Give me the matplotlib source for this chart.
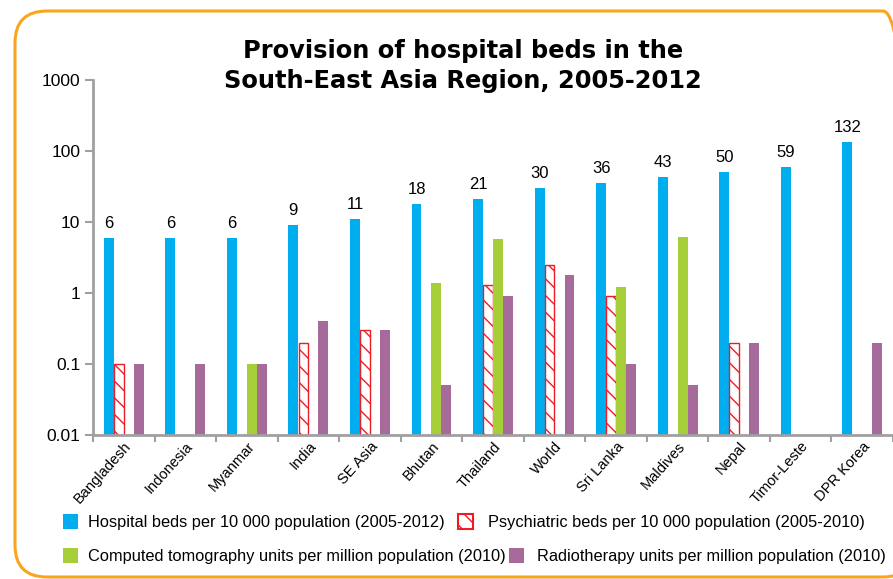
import matplotlib
matplotlib.use("Agg")
import matplotlib.pyplot as plt
import numpy as np
from matplotlib.patches import FancyBboxPatch, Rectangle
from matplotlib.transforms import IdentityTransform
from matplotlib.ticker import FixedLocator, NullLocator

categories = ["Bangladesh", "Indonesia", "Myanmar", "India", "SE Asia", "Bhutan", "Thailand",
              "World", "Sri Lanka", "Maldives", "Nepal", "Timor-Leste", "DPR Korea"]
hospital_beds = [6, 6, 6, 9, 11, 18, 21, 30, 36, 43, 50, 59, 132]
psychiatric_beds = [0.1, None, None, 0.2, 0.3, None, 1.3, 2.5, 0.9, None, 0.2, None, None]
ct_units = [None, None, 0.1, None, None, 1.4, 5.8, None, 1.2, 6.2, None, None, None]
radiotherapy_units = [0.1, 0.1, 0.1, 0.4, 0.3, 0.05, 0.9, 1.8, 0.1, 0.05, 0.2, None, 0.2]
yticks = [0.01, 0.1, 1, 10, 100, 1000]
ytick_labels = ["0.01", "0.1", "1", "10", "100", "1000"]

legend_labels = ["Hospital beds per 10 000 population (2005-2012)",
                 "Psychiatric beds per 10 000 population (2005-2010)",
                 "Computed tomography units per million population (2010)",
                 "Radiotherapy units per million population (2010)"]

BLUE = "#00AEEF"
RED = "#EE1C25"
GREEN = "#A6CE39"
PURPLE = "#A66B9B"
GRAY = "#A0A0A0"
ORANGE = "#F9A51E"

plt.rcParams['font.family'] = ['Liberation Sans Narrow', 'Liberation Sans', 'DejaVu Sans']
plt.rcParams['hatch.linewidth'] = 1.0

W, H = 893, 579
fig = plt.figure(figsize=(W / 100, H / 100), dpi=100)
ax = fig.add_axes([93 / W, 1 - 435 / H, 1.0 - 93 / W, (435 - 80) / H])

x = np.arange(len(categories))
bw = 0.162
offs = [-1.5 * bw, -0.5 * bw, 0.5 * bw, 1.5 * bw]

def clean(vals):
    return [v if v is not None else np.nan for v in vals]

bottom = 0.01
ax.bar(x + offs[0], np.array(hospital_beds) - bottom, bw, bottom=bottom, color=BLUE, edgecolor=BLUE, linewidth=0)
pv = np.array(clean(psychiatric_beds))
ax.bar(x + offs[1], pv - bottom, bw * 0.95, bottom=bottom, facecolor="white", edgecolor=RED, hatch="\\\\", linewidth=1.0)
cv = np.array(clean(ct_units))
ax.bar(x + offs[2], cv - bottom, bw, bottom=bottom, color=GREEN, linewidth=0)
rv = np.array(clean(radiotherapy_units))
ax.bar(x + offs[3], rv - bottom, bw, bottom=bottom, color=PURPLE, linewidth=0)

for xi, v in zip(x, hospital_beds):
    ax.annotate(str(v), (xi + offs[0], v), xytext=(0, 5), textcoords="offset points",
                ha="center", va="bottom", fontsize=12)

ax.set_yscale("log")
ax.set_ylim(0.01, 1000)
ax.set_xlim(-0.5, len(categories) - 0.5)
ax.yaxis.set_major_locator(FixedLocator(yticks))
ax.yaxis.set_minor_locator(NullLocator())
ax.set_yticklabels(ytick_labels, fontsize=12.5)

ax.set_xticks(x)
ax.set_xticklabels(categories, rotation=48, ha="right", rotation_mode="anchor", fontsize=10.5)
ax.tick_params(axis="x", which="major", length=0, pad=3)
ax.set_xticks(np.arange(-0.5, len(categories)), minor=True)
ax.tick_params(axis="x", which="minor", length=5, width=1.5, color=GRAY)
ax.tick_params(axis="y", which="major", length=6, width=1.5, color=GRAY, pad=3)

for s in ["top", "right"]:
    ax.spines[s].set_visible(False)
for s in ["left", "bottom"]:
    ax.spines[s].set_color(GRAY)
    ax.spines[s].set_linewidth(2)

fig.text(463 / W, 1 - 66 / H, "Provision of hospital beds in the\nSouth-East Asia Region, 2005-2012",
         ha="center", va="center", fontsize=17.4, fontweight="bold", family="DejaVu Sans",
         linespacing=1.3)

# Legend (manual placement)
def leg_item(px, py, label, tx, **kw):
    r = Rectangle((px / W, 1 - (py + 15) / H), 15 / W, 15 / H, transform=fig.transFigure, **kw)
    fig.add_artist(r)
    fig.text(tx / W, 1 - (py + 8) / H, label, ha="left", va="center", fontsize=11.8)

leg_item(63, 514, legend_labels[0], 88, facecolor=BLUE, edgecolor="none")
leg_item(458, 514, legend_labels[1], 488, facecolor="white", edgecolor=RED, hatch="\\\\", linewidth=1.5)
leg_item(63, 548, legend_labels[2], 88, facecolor=GREEN, edgecolor="none")
leg_item(509, 548, legend_labels[3], 537, facecolor=PURPLE, edgecolor="none")

border = FancyBboxPatch((15, 2), 900, 566, boxstyle="round,pad=0,rounding_size=32",
                        transform=IdentityTransform(), facecolor="none", edgecolor=ORANGE,
                        linewidth=2.2)
fig.add_artist(border)

fig.savefig("out.png", dpi=100)
